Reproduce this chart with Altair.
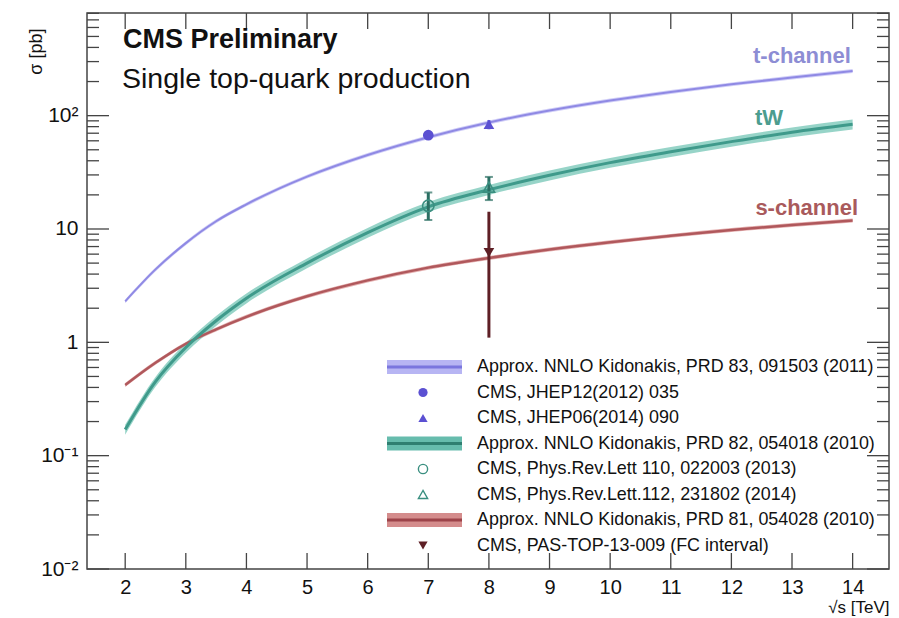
import altair as alt
import pandas as pd

# ---------------- data ----------------
energy = [2, 2.5, 3, 3.5, 4, 5, 6, 7, 8, 9, 10, 11, 12, 13, 14]
t_channel = [2.3, 4.4, 7.5, 11.7, 16.5, 29, 45, 64.6, 87.1, 111, 136, 162, 189, 217, 248]
tw = [0.17, 0.45, 0.9, 1.55, 2.45, 5.0, 9.3, 15.7, 22.2, 29.8, 38.5, 48, 59, 71.5, 84]
s_channel = [0.42, 0.66, 0.97, 1.3, 1.68, 2.55, 3.52, 4.56, 5.55, 6.6, 7.65, 8.7, 9.8, 10.85, 11.9]
band_frac = {"t": 0.04, "tW": 0.10, "s": 0.04}

meas_proc = ["t", "t", "tW", "tW", "s"]
meas_x = [7, 8, 7, 8, 8]
meas_y = [67.2, 83.6, 16.0, 23.4, 6.2]
meas_lo = [6.1, 7.7, 4.0, 5.4, 5.1]
meas_hi = [6.1, 7.7, 5.0, 5.4, 8.0]

legend_labels = [
    "Approx. NNLO Kidonakis, PRD 83, 091503 (2011)",
    "CMS, JHEP12(2012) 035",
    "CMS, JHEP06(2014) 090",
    "Approx. NNLO Kidonakis, PRD 82, 054018 (2010)",
    "CMS, Phys.Rev.Lett 110, 022003 (2013)",
    "CMS, Phys.Rev.Lett.112, 231802 (2014)",
    "Approx. NNLO Kidonakis, PRD 81, 054028 (2010)",
    "CMS, PAS-TOP-13-009 (FC interval)",
]
legend_kind = ["band", "filled", "filled", "band", "open", "open", "band", "filled"]
legend_shape = ["", "circle", "triangle-up", "", "circle", "triangle-up", "", "triangle-down"]
legend_proc = ["t", "t", "t", "tW", "tW", "tW", "s", "s"]

ann_text = ["t-channel", "tW", "s-channel"]
ann_proc = ["t", "tW", "s"]
ann_x = [13.97, 12.62, 14.09]
ann_y = [335, 96, 15.4]
ann_align = ["right", "center", "right"]

x_ticks = list(range(2, 15))
y_major = [0.01, 0.1, 1, 10, 100]

# ---------------- styles ----------------
W, H = 802, 556
FONT = "Liberation Sans"
line_col = {"t": "#8f89e4", "tW": "#3f9a8b", "s": "#b0585c"}
band_col = {"t": "#cbc9f6", "tW": "#8ccfc2", "s": "#e2a9a9"}
leg_band_col = {"t": "#b7b5f3", "tW": "#66bcad", "s": "#d48c8c"}
leg_line_col = {"t": "#7a76de", "tW": "#2f7f71", "s": "#9c4349"}
mark_col = {"t": "#5b50d2", "tW": "#3a8f80", "s": "#5e1f25"}
err_col = {"t": "#5b50d2", "tW": "#2b6f63", "s": "#5e1f25"}
text_col = {"t": "#8d8dd4", "tW": "#4c9d8f", "s": "#a95a5c"}
line_w = {"t": 2, "tW": 3, "s": 2.5}
AXIS_COL = "#444444"

xscale = alt.Scale(domain=[1.37, 14.6], nice=False, zero=False)
yscale = alt.Scale(type="log", domain=[0.01, 805], nice=False)

xaxis = alt.Axis(
    values=x_ticks, ticks=False, domain=False, grid=False, labelFontSize=20,
    labelPadding=8, labelColor="#111111", labelFont=FONT,
    title="√s [TeV]", titleFont=FONT, titleFontSize=17, titleFontWeight="normal",
    titleColor="#111111", titleX=W, titleY=38, titleAlign="right", titleBaseline="middle")
yaxis = alt.Axis(
    values=y_major, ticks=False, domain=False, grid=False, labelFontSize=21,
    labelPadding=9, labelColor="#111111", labelFont=FONT,
    labelExpr="datum.value >= 50 ? '10²' : datum.value >= 5 ? '10' : datum.value >= 0.5 ? '1' : datum.value >= 0.05 ? '10⁻¹' : '10⁻²'",
    title="σ [pb]", titleFont=FONT, titleFontSize=18, titleFontWeight="normal",
    titleColor="#111111", titleAngle=270, titleX=-51, titleY=15, titleAlign="right",
    titleBaseline="middle")

X = lambda f="E": alt.X(f"{f}:Q", scale=xscale, axis=xaxis)
Y = lambda f="sigma": alt.Y(f"{f}:Q", scale=yscale, axis=yaxis)

# ---------------- tables ----------------
curves = {"t": t_channel, "tW": tw, "s": s_channel}
rows = []
for p, vals in curves.items():
    f = band_frac[p]
    for e, v in zip(energy, vals):
        rows.append({"proc": p, "E": e, "sigma": v, "lo": v * (1 - f), "hi": v * (1 + f)})
cdf = pd.DataFrame(rows)

mdf = pd.DataFrame({"proc": meas_proc, "E": meas_x, "sigma": meas_y})
mdf["lo"] = [y - l for y, l in zip(meas_y, meas_lo)]
mdf["hi"] = [y + h for y, h in zip(meas_y, meas_hi)]
mdf["shape"] = ["circle", "triangle-up", "circle", "triangle-up", "triangle-down"]
mdf["filled"] = [True, True, False, False, True]

layers = []

# bands and curves
for p in ["s", "tW", "t"]:
    d = cdf[cdf.proc == p]
    layers.append(
        alt.Chart(d).mark_area(color=band_col[p], opacity=0.9, interpolate="monotone")
        .encode(x=X(), y=Y("lo"), y2="hi:Q")
    )
for p in ["s", "tW", "t"]:
    d = cdf[cdf.proc == p]
    layers.append(
        alt.Chart(d).mark_line(color=line_col[p], strokeWidth=line_w[p], interpolate="monotone")
        .encode(x=X(), y=Y())
    )

# error bars + markers
for p in ["t", "tW", "s"]:
    d = mdf[mdf.proc == p]
    layers.append(
        alt.Chart(d).mark_rule(color=err_col[p], strokeWidth=3)
        .encode(x=X(), y=Y("lo"), y2="hi:Q")
    )
    if p == "tW":
        for f in ["lo", "hi"]:
            layers.append(
                alt.Chart(d).mark_tick(color=err_col[p], orient="horizontal", size=8, thickness=2)
                .encode(x=X(), y=Y(f))
            )
for filled in [True, False]:
    d = mdf[mdf.filled == filled]
    for p in d.proc.unique():
        dd = d[d.proc == p]
        layers.append(
            alt.Chart(dd).mark_point(
                filled=filled, color=mark_col[p], size=115 if filled else 130,
                strokeWidth=1.6, opacity=1,
            ).encode(x=X(), y=Y(), shape=alt.Shape("shape:N", scale=None))
        )

# annotations
adf = pd.DataFrame({"text": ann_text, "E": ann_x, "sigma": ann_y, "proc": ann_proc})
for i in range(len(adf)):
    layers.append(
        alt.Chart(adf.iloc[[i]]).mark_text(
            font=FONT, fontSize=22, fontWeight="bold",
            color=text_col[adf.proc.iloc[i]], align=ann_align[i], baseline="middle",
        ).encode(x=X(), y=Y(), text="text:N")
    )

# manual inward ticks
ymin = [k * 10.0 ** e for e in range(-2, 3) for k in range(2, 10) if k * 10.0 ** e <= 805]
tdf_ymaj = pd.DataFrame({"v": y_major})
tdf_ymin = pd.DataFrame({"v": ymin})
tdf_x = pd.DataFrame({"v": x_ticks})
tick_style = dict(color=AXIS_COL, strokeWidth=1.3)
for df_, L in [(tdf_ymaj, 22), (tdf_ymin, 12)]:
    layers.append(alt.Chart(df_).mark_rule(**tick_style).encode(
        y=Y("v"), x=alt.value(0), x2=alt.value(L)))
    layers.append(alt.Chart(df_).mark_rule(**tick_style).encode(
        y=Y("v"), x=alt.value(W), x2=alt.value(W - L)))
layers.append(alt.Chart(tdf_x).mark_rule(**tick_style).encode(
    x=X("v"), y=alt.value(H), y2=alt.value(H - 16)))
layers.append(alt.Chart(tdf_x).mark_rule(**tick_style).encode(
    x=X("v"), y=alt.value(0), y2=alt.value(16)))

# legend (drawn manually: band swatch with centre line, markers, labels)
LEG_Y0, LEG_DY = 354, 25.5
LEG_BX0, LEG_BX1, LEG_SX, LEG_TX = 300, 375, 336, 390
ldf = pd.DataFrame({
    "label": legend_labels, "kind": legend_kind, "shape": legend_shape, "proc": legend_proc,
})
ldf["ly"] = [LEG_Y0 + i * LEG_DY for i in range(len(ldf))]
ldf["ly0"] = ldf["ly"] - 7
ldf["ly1"] = ldf["ly"] + 7
ldf["bandc"] = [leg_band_col[p] for p in ldf.proc]
ldf["linec"] = [leg_line_col[p] for p in ldf.proc]
ldf["markc"] = [mark_col[p] for p in ldf.proc]

lb = ldf[ldf.kind == "band"]
layers.append(alt.Chart(lb).mark_rect().encode(
    x=alt.value(LEG_BX0), x2=alt.value(LEG_BX1),
    y=alt.Y("ly0:Q", scale=None, axis=None), y2="ly1:Q",
    color=alt.Color("bandc:N", scale=None)))
layers.append(alt.Chart(lb).mark_rule(strokeWidth=3).encode(
    x=alt.value(LEG_BX0), x2=alt.value(LEG_BX1),
    y=alt.Y("ly:Q", scale=None, axis=None),
    color=alt.Color("linec:N", scale=None)))
for kind, filled in [("filled", True), ("open", False)]:
    lm = ldf[ldf.kind == kind]
    layers.append(alt.Chart(lm).mark_point(filled=filled, size=85, strokeWidth=1.4, opacity=1).encode(
        x=alt.value(LEG_SX), y=alt.Y("ly:Q", scale=None, axis=None),
        shape=alt.Shape("shape:N", scale=None),
        color=alt.Color("markc:N", scale=None)))
layers.append(alt.Chart(ldf).mark_text(
    font=FONT, fontSize=17.9, align="left", baseline="middle", color="#111111"
).encode(x=alt.value(LEG_TX), y=alt.Y("ly:Q", scale=None, axis=None), text="label:N"))

# header texts
hdf = pd.DataFrame({"t": ["CMS Preliminary", "Single top-quark production"]})
layers.append(alt.Chart(hdf.iloc[[0]]).mark_text(
    font=FONT, fontSize=27, fontWeight="bold", align="left", baseline="alphabetic", color="#111111"
).encode(x=alt.value(36), y=alt.value(35), text="t:N"))
layers.append(alt.Chart(hdf.iloc[[1]]).mark_text(
    font=FONT, fontSize=28.5, align="left", baseline="alphabetic", color="#111111"
).encode(x=alt.value(35), y=alt.value(75), text="t:N"))

chart = alt.layer(*layers).properties(
    width=W, height=H,
    autosize=alt.AutoSizeParams(type="none"),
    padding={"left": 87, "top": 13, "right": 10, "bottom": 49},
    background="white",
).configure_view(stroke=AXIS_COL, strokeWidth=1.5)

chart.save("out.html", embed_options={"renderer": "svg", "actions": False})
